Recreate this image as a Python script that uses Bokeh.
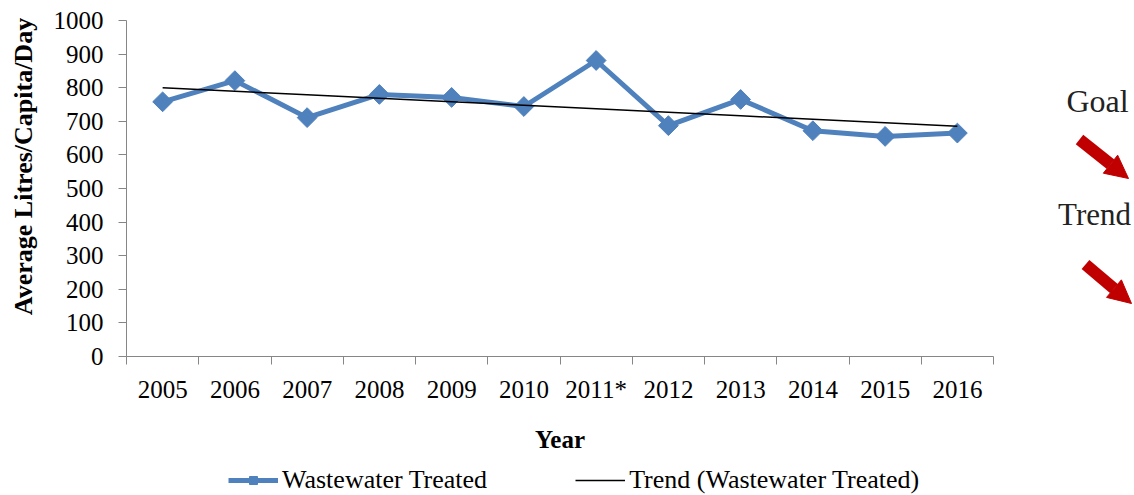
import math
import numpy as np
from bokeh.plotting import figure
from bokeh.models import (Range1d, FixedTicker, Legend, LegendItem, Label,
                          Arrow, NormalHead)
from bokeh.embed import file_html
from bokeh.resources import INLINE

# ---- data ----
years = ["2005", "2006", "2007", "2008", "2009", "2010", "2011*",
         "2012", "2013", "2014", "2015", "2016"]
treated = [758, 821, 711, 780, 771, 744, 881, 687, 765, 672, 655, 665]
y_ticks = [0, 100, 200, 300, 400, 500, 600, 700, 800, 900, 1000]

series_name = "Wastewater Treated"
trend_name = "Trend (Wastewater Treated)"
y_title = "Average Litres/Capita/Day"
x_title = "Year"
side_labels = ["Goal", "Trend"]

BLUE = "#4F81BD"
RED = "#C00000"
AXIS = "#868686"
FONT = "Liberation Serif"

n = len(years)
xc = [i + 0.5 for i in range(n)]
coef = np.polyfit(np.arange(n), np.array(treated, dtype=float), 1)
trend = list(np.polyval(coef, np.arange(n)))

# ---- layout geometry (canvas pixels) ----
W, H = 1134, 495
X0_PX, X1_PX = 126, 993        # where category 0 .. n edges sit
Y0_PX, Y1_PX = 356, 20         # where 0 and 1000 sit
sx = (X1_PX - X0_PX) / n
sy = (Y0_PX - Y1_PX) / 1000.0


def fx(px):
    return (px - X0_PX) / sx


def fy(py):
    return (Y0_PX - py) / sy


p = figure(width=W, height=H, x_range=Range1d(fx(0), fx(W)),
           y_range=Range1d(fy(H), fy(0)), title=None,
           output_backend="svg", toolbar_location=None,
           min_border_left=0, min_border_right=0, min_border_top=0,
           min_border_bottom=0)
p.background_fill_color = "white"
p.border_fill_color = "white"
p.outline_line_color = None
p.xgrid.visible = False
p.ygrid.visible = False

line_r = p.line(xc, treated, line_width=5, color=BLUE)
mark_r = p.scatter(xc, treated, marker="square", angle=math.pi / 4, size=14,
                   color=BLUE)
trend_r = p.line(xc, trend, line_width=1.5, color="black")

# x axis
xa = p.xaxis[0]
xa.fixed_location = 0
xa.bounds = (0, n)
xa.ticker = FixedTicker(ticks=xc, minor_ticks=list(range(n + 1)))
xa.major_label_overrides = {x: lab for x, lab in zip(xc, years)}
xa.major_tick_out = 0
xa.major_tick_in = 0
xa.minor_tick_out = 8
xa.minor_tick_in = 0
xa.minor_tick_line_color = AXIS
xa.axis_line_color = AXIS
xa.major_label_standoff = 11
xa.major_label_text_font = FONT
xa.major_label_text_font_size = "25px"
xa.major_label_text_color = "black"
xa.axis_label = x_title
xa.axis_label_text_font = FONT
xa.axis_label_text_font_size = "25px"
xa.axis_label_text_font_style = "bold"
xa.axis_label_text_color = "black"
xa.axis_label_standoff = 20

# y axis
ya = p.yaxis[0]
ya.fixed_location = 0
ya.bounds = (0, 1000)
ya.ticker = FixedTicker(ticks=y_ticks)
ya.major_tick_out = 8
ya.major_tick_in = 0
ya.minor_tick_out = 0
ya.minor_tick_in = 0
ya.major_tick_line_color = AXIS
ya.axis_line_color = AXIS
ya.major_label_standoff = 15
ya.major_label_text_font = FONT
ya.major_label_text_font_size = "25px"
ya.major_label_text_color = "black"

# y title
p.add_layout(Label(x=fx(23), y=fy(166), text=y_title, angle=math.pi / 2,
                   text_align="center", text_baseline="middle",
                   text_font=FONT, text_font_size="26px",
                   text_font_style="bold", text_color="black"))

legend = Legend(items=[LegendItem(label=series_name, renderers=[line_r, mark_r]),
                       LegendItem(label=trend_name, renderers=[trend_r])],
                orientation="horizontal", location=(228, 0),
                glyph_width=50, glyph_height=20, label_standoff=4, spacing=88,
                padding=0, margin=0, border_line_color=None,
                background_fill_alpha=0,
                label_text_font=FONT, label_text_font_size="26px",
                label_text_color="black")
p.add_layout(legend)

# Goal / Trend with arrows on the right
p.add_layout(Label(x=fx(1097), y=fy(100), text=side_labels[0], text_align="center",
                   text_baseline="middle", text_font=FONT, text_font_size="32px",
                   text_color="#222222"))
p.add_layout(Label(x=fx(1094), y=fy(214), text=side_labels[1], text_align="center",
                   text_baseline="middle", text_font=FONT, text_font_size="31px",
                   text_color="#222222"))
for (xs, ys, xe, ye) in [(1079, 139, 1128, 178), (1085, 264, 1131, 303)]:
    p.add_layout(Arrow(end=NormalHead(size=23, fill_color=RED, line_color=RED),
                       x_start=fx(xs), y_start=fy(ys), x_end=fx(xe), y_end=fy(ye),
                       line_width=12, line_color=RED))

open("out.html", "w").write(file_html(p, INLINE))
